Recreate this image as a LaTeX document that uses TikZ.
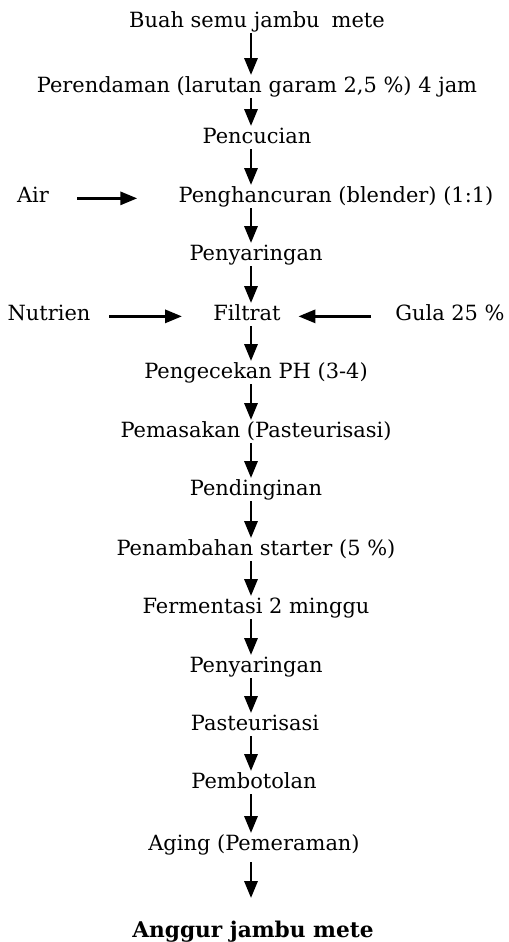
\documentclass[tikz,border=0pt]{standalone}
\usepackage{fontspec}
\setmainfont{DejaVu Serif}
\usepackage{tikz}
\usetikzlibrary{arrows.meta}
\usetikzlibrary{positioning}

\begin{document}
\begin{tikzpicture}[
        x=0.025cm, y=-0.025cm,
        stage/.style={anchor=base, font=\fontsize{14.9pt}{17pt}\selectfont, inner xsep=0pt, inner ysep=0.05cm, text height=0.37cm, text depth=0.1cm},
        input/.style={stage},
        arrow/.style={-{Triangle[length=0.42cm, width=0.33cm]}, line width=1.7pt, black}
    ]
        \useasboundingbox (0,0) rectangle (508,942);
        \coordinate (axis) at (251,0);

        % main process
        \node[stage] (buah) at (257,27) {Buah semu jambu\hspace{0.3cm}mete};
        \node[stage] (rendam) at (257,92) {Perendaman (larutan garam 2,5 \%) 4 jam};
        \node[stage] (cuci) at (257,143) {Pencucian};
        \node[stage] (hancur) at (336,202) {Penghancuran (blender) (1:1)};
        \node[stage] (saring) at (256,260) {Penyaringan};
        \node[stage] (filtrat) at (247,320) {Filtrat};
        \node[stage] (ph) at (256,378) {Pengecekan PH (3-4)};
        \node[stage] (masak) at (256,437) {Pemasakan (Pasteurisasi)};
        \node[stage] (dingin) at (256,495) {Pendinginan};
        \node[stage] (starter) at (256,555) {Penambahan starter (5 \%)};
        \node[stage] (fermen) at (256,613) {Fermentasi 2 minggu};
        \node[stage] (saring2) at (256,672) {Penyaringan};
        \node[stage] (pasteur) at (255,730) {Pasteurisasi};
        \node[stage] (botol) at (254,788) {Pembotolan};
        \node[stage] (aging) at (254,850) {Aging (Pemeraman)};
        \node[stage, font=\fontsize{15.4pt}{17pt}\selectfont\bfseries] (anggur) at (253,937) {Anggur jambu mete};

        % added materials
        \node[input] (air) at (33,202) {Air};
        \node[input] (nutrien) at (49,320) {Nutrien};
        \node[input] (gula) at (450,320) {Gula 25 \%};

        \foreach \a/\b in {buah/rendam, rendam/cuci, cuci/hancur, hancur/saring, saring/filtrat, filtrat/ph, ph/masak, masak/dingin, dingin/starter, starter/fermen, fermen/saring2, saring2/pasteur, pasteur/botol, botol/aging}
            \draw[arrow] (\a.south -| axis) -- (\b.north -| axis);
        \draw[arrow, shorten <=0.15cm, shorten >=0.55cm] (aging.south -| axis) -- (anggur.north -| axis);

        \draw[arrow, shorten <=0.7cm, shorten >=1.03cm] (air.mid east) -- (hancur.mid west);
        \draw[arrow, shorten <=0.46cm, shorten >=0.78cm] (nutrien.mid east) -- (filtrat.mid west);
        \draw[arrow, shorten <=0.6cm, shorten >=0.44cm] (gula.mid west) -- (filtrat.mid east);

    \end{tikzpicture}
\end{document}
